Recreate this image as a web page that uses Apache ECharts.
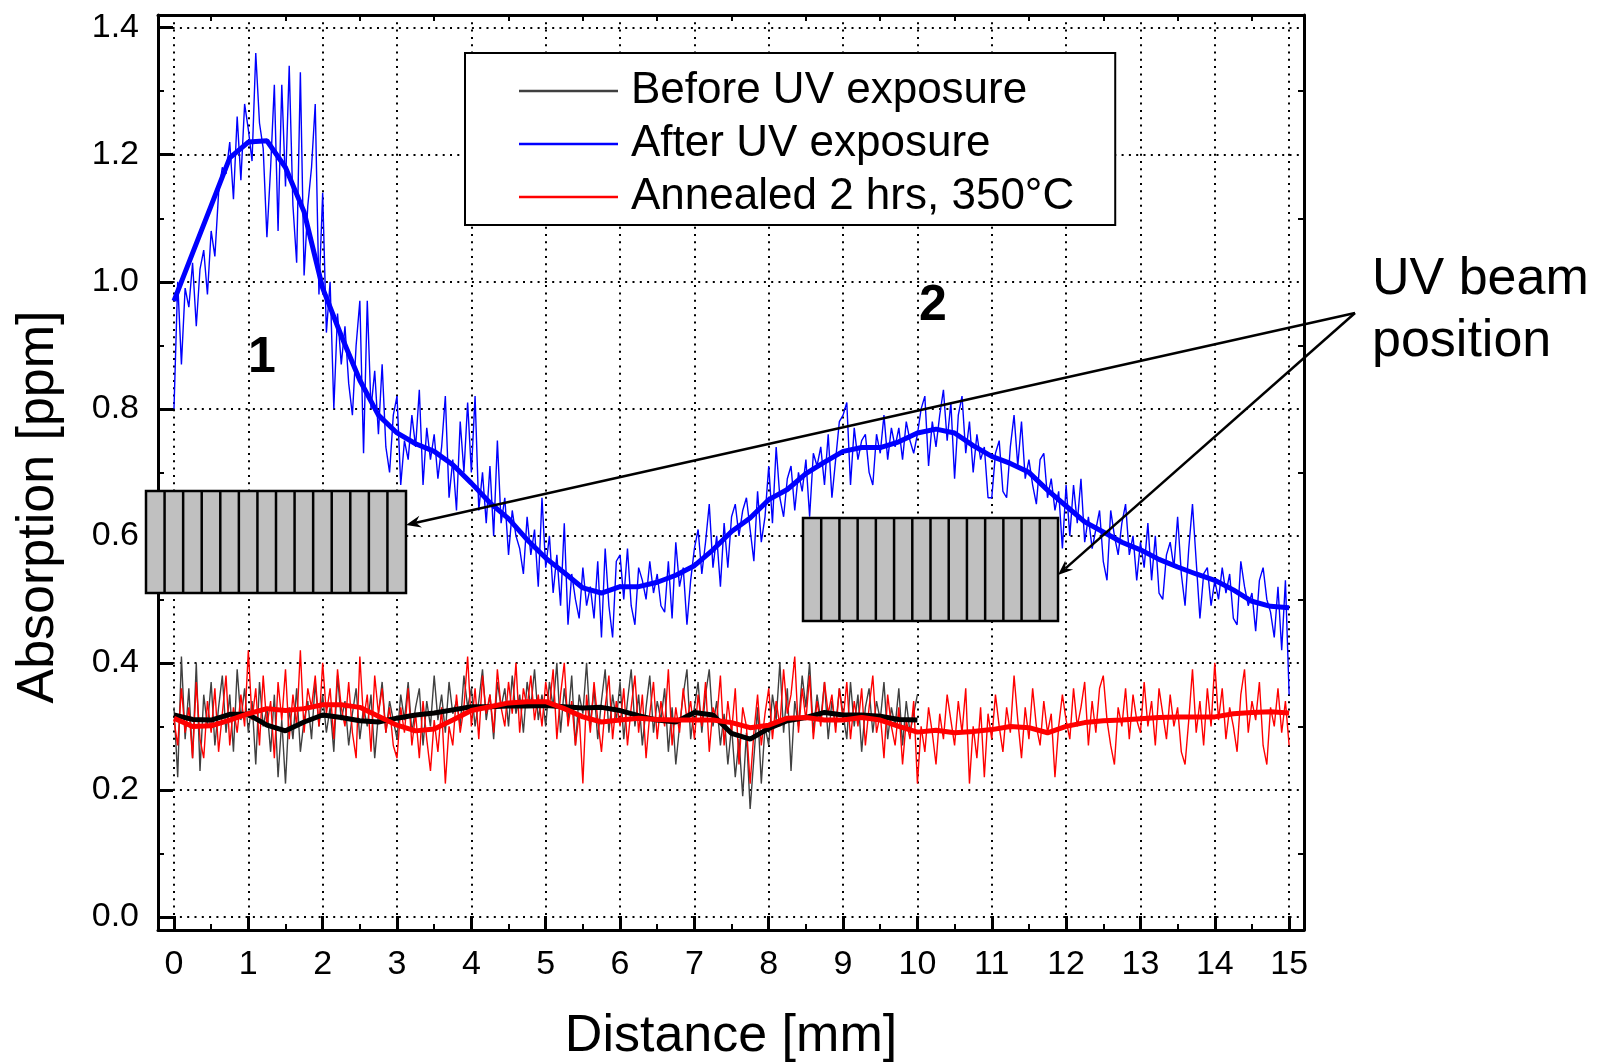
<!DOCTYPE html>
<html>
<head>
<meta charset="utf-8">
<title>Absorption vs distance</title>
<script src="https://cdn.jsdelivr.net/npm/echarts@6/dist/echarts.min.js"></script>
<style>
  html, body { margin: 0; padding: 0; background: #fff; }
  #chart { width: 1602px; height: 1062px; }
</style>
</head>
<body>
<div id="chart"></div>
<script>
// sampling steps (mm) of the raw scans and of the smoothed curves
const RAW_STEP = 0.05;
const SMOOTH_STEP = 0.25;

const seriesNames = ["Before UV exposure", "After UV exposure", "Annealed 2 hrs, 350°C"];

// raw scan before UV, 0..10 mm (one line per mm)
const beforeRaw = [
  0.33, 0.22, 0.41, 0.28, 0.36, 0.25, 0.40, 0.23, 0.35, 0.30, 0.37, 0.27, 0.33, 0.38, 0.29, 0.35, 0.26, 0.39, 0.31, 0.36,
  0.29, 0.34, 0.24, 0.37, 0.30, 0.33, 0.26, 0.35, 0.22, 0.31, 0.21, 0.33, 0.28, 0.36, 0.26, 0.31, 0.34, 0.28, 0.37, 0.30,
  0.35, 0.29, 0.33, 0.26, 0.38, 0.31, 0.34, 0.27, 0.32, 0.36, 0.28, 0.33, 0.30, 0.35, 0.25, 0.32, 0.37, 0.29, 0.34, 0.31,
  0.28, 0.35, 0.31, 0.37, 0.29, 0.33, 0.36, 0.27, 0.34, 0.30, 0.38, 0.31, 0.35, 0.29, 0.37, 0.32, 0.34, 0.30, 0.38, 0.33,
  0.36, 0.30, 0.34, 0.39, 0.31, 0.35, 0.28, 0.37, 0.33, 0.36, 0.30, 0.38, 0.32, 0.35, 0.29, 0.37, 0.33, 0.39, 0.31, 0.35,
  0.30, 0.37, 0.33, 0.40, 0.29, 0.36, 0.31, 0.38, 0.27, 0.35, 0.32, 0.40, 0.30, 0.36, 0.28, 0.34, 0.39, 0.29, 0.35, 0.31,
  0.37, 0.28, 0.34, 0.39, 0.30, 0.35, 0.27, 0.33, 0.38, 0.29, 0.34, 0.31, 0.36, 0.26, 0.33, 0.24, 0.30, 0.35, 0.39, 0.28,
  0.33, 0.37, 0.29, 0.35, 0.39, 0.30, 0.34, 0.27, 0.32, 0.24, 0.30, 0.22, 0.28, 0.19, 0.29, 0.17, 0.25, 0.33, 0.21, 0.30,
  0.27, 0.35, 0.31, 0.40, 0.29, 0.36, 0.23, 0.34, 0.30, 0.38, 0.33, 0.40, 0.29, 0.35, 0.31, 0.37, 0.28, 0.34, 0.30, 0.36,
  0.32, 0.28, 0.37, 0.30, 0.35, 0.26, 0.33, 0.36, 0.29, 0.34, 0.31, 0.37, 0.28, 0.33, 0.30, 0.36, 0.27, 0.34, 0.29, 0.32,
  0.35
];

// raw scan after UV, 0..15 mm
const afterRaw = [
  0.80, 1.00, 0.87, 0.99, 0.96, 1.03, 0.93, 1.02, 1.05, 0.98, 1.08, 1.04, 1.14, 1.18, 1.17, 1.22, 1.13, 1.26, 1.16, 1.28,
  1.24, 1.19, 1.36, 1.25, 1.21, 1.07, 1.18, 1.31, 1.08, 1.31, 1.15, 1.34, 1.12, 1.03, 1.33, 1.01, 1.12, 1.18, 1.28, 0.98,
  1.14, 0.92, 1.00, 0.80, 0.95, 0.87, 0.93, 0.84, 0.79, 0.90, 0.97, 0.73, 0.97, 0.80, 0.86, 0.76, 0.87, 0.74, 0.70, 0.79,
  0.82, 0.68, 0.75, 0.72, 0.79, 0.74, 0.83, 0.68, 0.77, 0.72, 0.76, 0.69, 0.74, 0.82, 0.66, 0.72, 0.64, 0.78, 0.70, 0.81,
  0.70, 0.82, 0.64, 0.70, 0.62, 0.71, 0.60, 0.75, 0.62, 0.66, 0.57, 0.64, 0.60, 0.58, 0.54, 0.63, 0.57, 0.61, 0.52, 0.66,
  0.55, 0.60, 0.51, 0.57, 0.49, 0.62, 0.46, 0.54, 0.50, 0.47, 0.55, 0.49, 0.52, 0.47, 0.56, 0.44, 0.58, 0.49, 0.44, 0.56,
  0.57, 0.50, 0.58, 0.49, 0.46, 0.55, 0.53, 0.50, 0.56, 0.51, 0.54, 0.49, 0.48, 0.56, 0.47, 0.59, 0.52, 0.55, 0.46, 0.53,
  0.58, 0.61, 0.54, 0.59, 0.65, 0.55, 0.60, 0.52, 0.62, 0.55, 0.63, 0.65, 0.60, 0.64, 0.66, 0.61, 0.56, 0.67, 0.59, 0.63,
  0.71, 0.62, 0.74, 0.66, 0.63, 0.69, 0.71, 0.64, 0.70, 0.67, 0.72, 0.63, 0.73, 0.71, 0.74, 0.68, 0.76, 0.66, 0.72, 0.78,
  0.79, 0.81, 0.68, 0.77, 0.72, 0.75, 0.76, 0.70, 0.68, 0.76, 0.73, 0.79, 0.72, 0.77, 0.74, 0.77, 0.72, 0.78, 0.75, 0.73,
  0.76, 0.80, 0.82, 0.71, 0.78, 0.74, 0.79, 0.83, 0.75, 0.81, 0.69, 0.79, 0.82, 0.73, 0.78, 0.70, 0.76, 0.72, 0.74, 0.66,
  0.66, 0.73, 0.75, 0.67, 0.66, 0.74, 0.79, 0.71, 0.78, 0.69, 0.72, 0.68, 0.65, 0.72, 0.73, 0.66, 0.69, 0.64, 0.67, 0.58,
  0.68, 0.60, 0.68, 0.62, 0.69, 0.59, 0.63, 0.58, 0.61, 0.64, 0.56, 0.53, 0.64, 0.60, 0.57, 0.62, 0.65, 0.57, 0.60, 0.53,
  0.59, 0.55, 0.62, 0.53, 0.60, 0.51, 0.50, 0.57, 0.59, 0.55, 0.63, 0.54, 0.49, 0.58, 0.65, 0.56, 0.47, 0.54, 0.55, 0.49,
  0.53, 0.50, 0.55, 0.51, 0.54, 0.47, 0.46, 0.56, 0.52, 0.49, 0.51, 0.45, 0.53, 0.55, 0.50, 0.48, 0.44, 0.52, 0.42, 0.53,
  0.35
];

// raw scan after annealing, 0..15 mm
const annealedRaw = [
  0.31, 0.27, 0.36, 0.29, 0.33, 0.25, 0.37, 0.28, 0.25, 0.34, 0.29, 0.36, 0.26, 0.32, 0.38, 0.27, 0.33, 0.29, 0.35, 0.30,
  0.42, 0.31, 0.36, 0.27, 0.38, 0.30, 0.34, 0.25, 0.37, 0.31, 0.39, 0.28, 0.35, 0.30, 0.42, 0.29, 0.36, 0.33, 0.38, 0.30,
  0.40, 0.32, 0.36, 0.28, 0.39, 0.33, 0.30, 0.37, 0.29, 0.25, 0.41, 0.31, 0.35, 0.26, 0.38, 0.32, 0.36, 0.29, 0.33, 0.27,
  0.25, 0.33, 0.29, 0.36, 0.27, 0.32, 0.25, 0.34, 0.28, 0.23, 0.31, 0.26, 0.33, 0.21, 0.30, 0.27, 0.35, 0.29, 0.33, 0.41,
  0.30, 0.36, 0.28, 0.38, 0.32, 0.35, 0.29, 0.39, 0.33, 0.30, 0.37, 0.32, 0.40, 0.29, 0.36, 0.33, 0.38, 0.31, 0.35, 0.30,
  0.37, 0.33, 0.39, 0.28, 0.35, 0.40, 0.30, 0.34, 0.27, 0.32, 0.21, 0.35, 0.29, 0.37, 0.31, 0.26, 0.33, 0.38, 0.28, 0.34,
  0.30, 0.36, 0.27, 0.33, 0.38, 0.29, 0.35, 0.25, 0.32, 0.37, 0.28, 0.34, 0.30, 0.39, 0.27, 0.33, 0.29, 0.36, 0.31, 0.34,
  0.28, 0.35, 0.30, 0.37, 0.26, 0.33, 0.31, 0.38, 0.27, 0.34, 0.29, 0.36, 0.24, 0.33, 0.30, 0.21, 0.29, 0.35, 0.27, 0.32,
  0.36, 0.28, 0.34, 0.30, 0.39, 0.32, 0.35, 0.41, 0.29, 0.36, 0.31, 0.38, 0.28, 0.34, 0.30, 0.37, 0.32, 0.35, 0.29, 0.36,
  0.31, 0.37, 0.28, 0.34, 0.30, 0.36, 0.27, 0.33, 0.38, 0.29, 0.32, 0.25, 0.35, 0.30, 0.27, 0.33, 0.24, 0.31, 0.28, 0.34,
  0.21, 0.30, 0.26, 0.33, 0.29, 0.24, 0.32, 0.28, 0.35, 0.31, 0.27, 0.34, 0.29, 0.36, 0.21, 0.30, 0.25, 0.33, 0.22, 0.32,
  0.28, 0.35, 0.30, 0.26, 0.33, 0.29, 0.38, 0.31, 0.25, 0.33, 0.28, 0.36, 0.30, 0.27, 0.34, 0.29, 0.32, 0.22, 0.30, 0.35,
  0.31, 0.28, 0.36, 0.30, 0.33, 0.37, 0.27, 0.34, 0.29, 0.36, 0.38, 0.31, 0.27, 0.24, 0.33, 0.30, 0.36, 0.28, 0.35, 0.31,
  0.29, 0.37, 0.30, 0.34, 0.27, 0.36, 0.32, 0.28, 0.35, 0.30, 0.33, 0.26, 0.24, 0.31, 0.39, 0.29, 0.34, 0.27, 0.36, 0.30,
  0.40, 0.31, 0.36, 0.28, 0.33, 0.30, 0.26, 0.35, 0.39, 0.29, 0.34, 0.31, 0.37, 0.27, 0.24, 0.33, 0.30, 0.36, 0.29, 0.34,
  0.27
];

// smoothed curves (thick lines)
const beforeSmooth = [
  0.318, 0.311, 0.310, 0.319, 0.319, 0.302, 0.293, 0.307, 0.318, 0.314, 0.309, 0.307, 0.313, 0.318, 0.321, 0.326,
  0.331, 0.331, 0.332, 0.332, 0.333, 0.331, 0.329, 0.330, 0.325, 0.317, 0.310, 0.307, 0.322, 0.318, 0.289, 0.280,
  0.297, 0.309, 0.314, 0.322, 0.318, 0.318, 0.316, 0.311, 0.310
];
const afterSmooth = [
  0.970, 1.045, 1.120, 1.195, 1.220, 1.222, 1.180, 1.110, 0.990, 0.915, 0.845, 0.790, 0.762, 0.745, 0.733, 0.712,
  0.683, 0.652, 0.627, 0.594, 0.565, 0.542, 0.518, 0.510, 0.520, 0.520, 0.527, 0.538, 0.553, 0.578, 0.607, 0.628,
  0.657, 0.673, 0.698, 0.716, 0.733, 0.739, 0.739, 0.748, 0.762, 0.768, 0.762, 0.742, 0.725, 0.714, 0.700, 0.672,
  0.647, 0.622, 0.606, 0.590, 0.578, 0.563, 0.551, 0.540, 0.530, 0.515, 0.497, 0.489, 0.487
];
const annealedSmooth = [
  0.313, 0.300, 0.301, 0.310, 0.320, 0.328, 0.325, 0.328, 0.334, 0.334, 0.330, 0.316, 0.302, 0.293, 0.296, 0.310,
  0.325, 0.331, 0.337, 0.339, 0.339, 0.328, 0.315, 0.307, 0.310, 0.313, 0.311, 0.310, 0.310, 0.310, 0.306, 0.298,
  0.302, 0.313, 0.314, 0.310, 0.310, 0.314, 0.310, 0.300, 0.291, 0.294, 0.290, 0.292, 0.295, 0.300, 0.298, 0.290,
  0.300, 0.306, 0.309, 0.310, 0.312, 0.314, 0.315, 0.315, 0.315, 0.320, 0.322, 0.323, 0.321
];

// axis ticks
const xTicks = [0, 1, 2, 3, 4, 5, 6, 7, 8, 9, 10, 11, 12, 13, 14, 15];
const xMinorTicks = [0.5, 1.5, 2.5, 3.5, 4.5, 5.5, 6.5, 7.5, 8.5, 9.5, 10.5, 11.5, 12.5, 13.5, 14.5];
const yTicks = [0, 0.2, 0.4, 0.6, 0.8, 1.0, 1.2, 1.4];
const yMinorTicks = [0.1, 0.3, 0.5, 0.7, 0.9, 1.1, 1.3];

const FONT = '"Liberation Sans", Arial, Helvetica, sans-serif';
const X_RANGE = [-0.215, 15.2];
const Y_RANGE = [-0.0205, 1.42];

function toPoints(values, step) {
  return values.map((v, i) => [Math.round(i * step * 1000) / 1000, v]);
}

function rawLine(name, values, color) {
  return {
    name: name,
    type: "line",
    data: toPoints(values, RAW_STEP),
    symbol: "none",
    lineStyle: { color: color, width: 1.4 },
    itemStyle: { color: color },
    emphasis: { disabled: true },
  };
}

function smoothLine(name, values, color) {
  return {
    name: name,
    type: "line",
    data: toPoints(values, SMOOTH_STEP),
    symbol: "none",
    lineStyle: { color: color, width: 5 },
    itemStyle: { color: color },
    emphasis: { disabled: true },
  };
}

// annotation helpers (pixel positions)
function beamBlock(x, y, w, h, cells) {
  const els = [{
    type: "rect", z: 100,
    shape: { x: x, y: y, width: w, height: h },
    style: { fill: "#c0c0c0", stroke: "#000", lineWidth: 2.5 },
  }];
  for (let i = 1; i < cells; i++) {
    const xx = x + (w * i) / cells;
    els.push({
      type: "line", z: 100,
      shape: { x1: xx, y1: y, x2: xx, y2: y + h },
      style: { stroke: "#000", lineWidth: 2.5 },
    });
  }
  return els;
}

function arrow(x1, y1, x2, y2) {
  const a = Math.atan2(y2 - y1, x2 - x1);
  const pt = (d, o) => [
    x2 - d * Math.cos(a) - o * Math.sin(a),
    y2 - d * Math.sin(a) + o * Math.cos(a),
  ];
  const neck = pt(10, 0);
  return [
    {
      type: "line", z: 100,
      shape: { x1: x1, y1: y1, x2: neck[0], y2: neck[1] },
      style: { stroke: "#000", lineWidth: 2.5 },
    },
    {
      type: "polygon", z: 100,
      shape: { points: [[x2, y2], pt(15, 6), neck, pt(15, -6)] },
      style: { fill: "#000" },
    },
  ];
}

function label(text, x, y, size, opts) {
  return Object.assign({
    type: "text", z: 100, x: x, y: y,
    style: {
      text: text, fill: "#000",
      font: (opts && opts.bold ? "bold " : "") + size + "px " + FONT,
      textAlign: (opts && opts.align) || "center",
      textVerticalAlign: "middle",
      align: (opts && opts.align) || "center",
      verticalAlign: "middle",
    },
  }, opts && opts.rotation ? { rotation: opts.rotation } : {});
}

const chart = echarts.init(document.getElementById("chart"));

const axisLineStyle = { color: "#000", width: 3 };
const gridLineStyle = { color: "#000", width: 2, type: [2, 5.3] };

function minorAxis(extra) {
  return Object.assign({
    type: "value",
    axisLine: { show: false, onZero: false },
    axisLabel: { show: false },
    splitLine: { show: false },
  }, extra);
}

const option = {
  animation: false,
  backgroundColor: "#fff",
  grid: { left: 158, top: 15, right: 298, bottom: 132 },
  legend: {
    data: seriesNames,
    orient: "vertical",
    left: 465,
    top: 53,
    padding: [16, 41, 6, 54],
    borderColor: "#000",
    borderWidth: 2,
    borderRadius: 0,
    backgroundColor: "#fff",
    icon: "rect",
    itemWidth: 99,
    itemHeight: 2.5,
    itemGap: 9,
    textStyle: {
      fontFamily: FONT, fontSize: 44, color: "#000",
      lineHeight: 44, padding: [0, 0, 0, 8],
    },
    selectedMode: false,
  },
  xAxis: [
    {
      type: "value",
      min: X_RANGE[0], max: X_RANGE[1],
      position: "bottom",
      axisLine: { onZero: false, lineStyle: axisLineStyle },
      axisTick: { inside: true, length: 14, customValues: xTicks, lineStyle: { color: "#000", width: 3 } },
      axisLabel: {
        customValues: xTicks, margin: 18,
        fontFamily: FONT, fontSize: 34, color: "#000",
        formatter: (v) => String(Math.round(v)),
      },
      splitLine: { show: true, lineStyle: gridLineStyle },
    },
    minorAxis({
      min: X_RANGE[0], max: X_RANGE[1], position: "bottom",
      axisTick: { inside: true, length: 6, customValues: xMinorTicks, lineStyle: { color: "#000", width: 2 } },
    }),
    minorAxis({
      min: X_RANGE[0], max: X_RANGE[1], position: "top",
      axisLine: { show: true, onZero: false, lineStyle: axisLineStyle },
      axisTick: { inside: true, length: 6, customValues: xMinorTicks, lineStyle: { color: "#000", width: 2 } },
    }),
  ],
  yAxis: [
    {
      type: "value",
      min: Y_RANGE[0], max: Y_RANGE[1],
      position: "left",
      axisLine: { show: true, onZero: false, lineStyle: axisLineStyle },
      axisTick: { show: true, inside: true, length: 15, customValues: yTicks, lineStyle: { color: "#000", width: 3 } },
      axisLabel: {
        customValues: yTicks, margin: 19,
        fontFamily: FONT, fontSize: 34, color: "#000",
        formatter: (v) => v.toFixed(1),
      },
      splitLine: { show: true, lineStyle: gridLineStyle },
    },
    minorAxis({
      min: Y_RANGE[0], max: Y_RANGE[1], position: "left",
      axisTick: { show: true, inside: true, length: 6, customValues: yMinorTicks, lineStyle: { color: "#000", width: 2 } },
    }),
    minorAxis({
      min: Y_RANGE[0], max: Y_RANGE[1], position: "right",
      axisLine: { show: true, onZero: false, lineStyle: axisLineStyle },
      axisTick: { show: true, inside: true, length: 6, customValues: yMinorTicks, lineStyle: { color: "#000", width: 2 } },
    }),
  ],
  series: [
    rawLine(seriesNames[0], beforeRaw, "#404040"),
    rawLine(seriesNames[2], annealedRaw, "#ff0000"),
    smoothLine("before-smooth", beforeSmooth, "#000000"),
    smoothLine("annealed-smooth", annealedSmooth, "#ff0000"),
    rawLine(seriesNames[1], afterRaw, "#0000ff"),
    smoothLine("after-smooth", afterSmooth, "#0000ff"),
  ],
  graphic: [
    ...beamBlock(146, 491, 260, 102, 14),
    ...beamBlock(803, 518, 255, 103, 14),
    ...arrow(1355, 313, 406, 525),
    ...arrow(1355, 313, 1058, 575),
    label("1", 262, 358, 50, { bold: true }),
    label("2", 933, 306, 50, { bold: true }),
    label("UV beam", 1372, 280, 52, { align: "left" }),
    label("position", 1372, 342, 52, { align: "left" }),
    label("Distance [mm]", 731, 1037, 52),
    label("Absorption [ppm]", 39, 507, 52, { rotation: Math.PI / 2 }),
  ],
};

chart.setOption(option);
</script>
</body>
</html>
